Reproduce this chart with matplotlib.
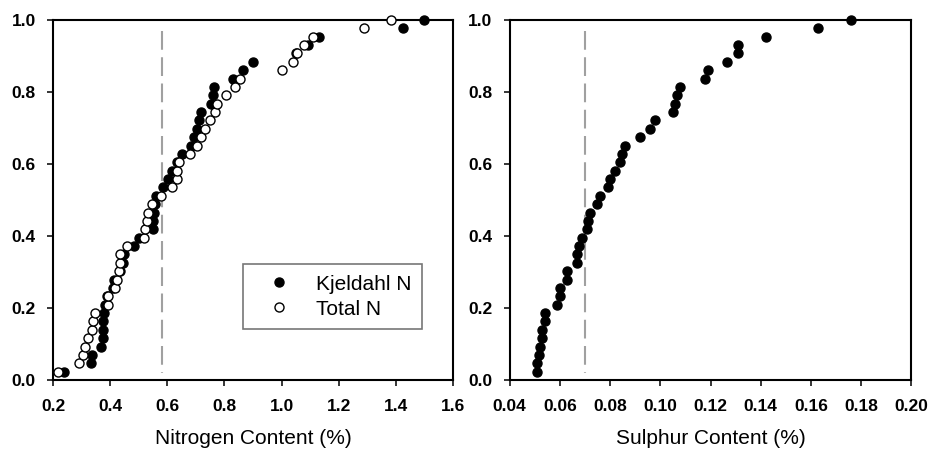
import matplotlib
matplotlib.use("Agg")
import matplotlib.pyplot as plt
import numpy as np

plt.rcParams['font.family'] = ['Liberation Sans', 'DejaVu Sans']

# nitrogen content (%), sorted
kjeldahl_n = [0.239, 0.333, 0.335, 0.368, 0.374, 0.374, 0.376, 0.380, 0.382, 0.390,
              0.410, 0.414, 0.434, 0.446, 0.449, 0.484, 0.502, 0.549, 0.551, 0.555,
              0.557, 0.562, 0.585, 0.604, 0.615, 0.633, 0.650, 0.682, 0.694, 0.703,
              0.711, 0.717, 0.752, 0.761, 0.765, 0.831, 0.864, 0.899, 1.050, 1.091,
              1.132, 1.426, 1.499]
total_n = [0.219, 0.292, 0.306, 0.312, 0.324, 0.335, 0.339, 0.347, 0.391, 0.394,
           0.417, 0.423, 0.432, 0.434, 0.436, 0.460, 0.520, 0.521, 0.530, 0.531,
           0.545, 0.578, 0.615, 0.633, 0.635, 0.642, 0.680, 0.703, 0.717, 0.732,
           0.750, 0.767, 0.773, 0.806, 0.838, 0.855, 1.000, 1.039, 1.053, 1.080,
           1.109, 1.290, 1.382]

# sulphur content (%)
sulphur = [0.0509, 0.0509, 0.0517, 0.0520, 0.0528, 0.0530, 0.0540, 0.0540, 0.0589, 0.0600,
           0.0600, 0.0629, 0.0629, 0.0669, 0.0669, 0.0677, 0.0690, 0.0708, 0.0711, 0.0719,
           0.0748, 0.0759, 0.0790, 0.0799, 0.0819, 0.0839, 0.0847, 0.0860, 0.0919, 0.0959,
           0.0979, 0.1049, 0.1058, 0.1068, 0.1078, 0.1178, 0.1191, 0.1265, 0.1311, 0.1311,
           0.1420, 0.1630, 0.1760]

n_crit = 0.58
s_crit = 0.07
n_ticks = [0.2, 0.4, 0.6, 0.8, 1.0, 1.2, 1.4, 1.6]
s_ticks = [0.04, 0.06, 0.08, 0.10, 0.12, 0.14, 0.16, 0.18, 0.20]


def cum_frac(vals):
    v = np.sort(np.array(vals))
    return v, np.arange(1, len(v) + 1) / len(v)


def style_axes(ax, xticks, fmt):
    ax.set_ylim(0, 1.0)
    ax.set_xlim(xticks[0], xticks[-1])
    ax.set_xticks(xticks)
    ax.set_yticks(np.arange(0, 1.01, 0.2))
    ax.xaxis.set_major_formatter(matplotlib.ticker.FormatStrFormatter(fmt))
    ax.yaxis.set_major_formatter(matplotlib.ticker.FormatStrFormatter('%.1f'))
    ax.tick_params(direction='out', length=4.5, width=1.1, labelsize=12.5, top=False, right=False)
    ax.tick_params(axis='x', pad=9)
    ax.tick_params(axis='y', pad=8)
    for lab in ax.get_xticklabels() + ax.get_yticklabels():
        lab.set_fontweight('bold')
    for sp in ax.spines.values():
        sp.set_linewidth(1.5)


def crit_line(ax, xv):
    ax.plot([xv, xv], [0.97, 0.02], color='#a0a0a0', lw=1.5, dashes=(9, 3.6), zorder=1)


fig = plt.figure(figsize=(9.3, 4.53), dpi=100)
ax1 = fig.add_axes([0.057, 0.161, 0.430, 0.795])
ax2 = fig.add_axes([0.548, 0.161, 0.432, 0.795])

# left: nitrogen
crit_line(ax1, n_crit)
x, y = cum_frac(kjeldahl_n)
ax1.plot(x, y, 'o', ms=6.5, mfc='black', mec='black', mew=1.0, label='Kjeldahl N',
         zorder=3, clip_on=False)
x, y = cum_frac(total_n)
ax1.plot(x, y, 'o', ms=6.5, mfc='white', mec='black', mew=1.0, label='Total N',
         zorder=4, clip_on=False)
style_axes(ax1, n_ticks, '%.1f')
ax1.set_xlabel('Nitrogen Content (%)', fontsize=15, labelpad=11)
leg = ax1.legend(loc='upper left', bbox_to_anchor=(0.475, 0.322), borderaxespad=0,
                 fontsize=15, frameon=True, fancybox=False, edgecolor='#555555',
                 handletextpad=0.5, borderpad=0.5, labelspacing=0.3, handlelength=2.5)
leg.get_frame().set_linewidth(1.2)

# right: sulphur
crit_line(ax2, s_crit)
x, y = cum_frac(sulphur)
ax2.plot(x, y, 'o', ms=6.5, mfc='black', mec='black', mew=1.0, zorder=3, clip_on=False)
style_axes(ax2, s_ticks, '%.2f')
ax2.set_xlabel('Sulphur Content (%)', fontsize=15, labelpad=11)

fig.savefig('out.png', dpi=100)
